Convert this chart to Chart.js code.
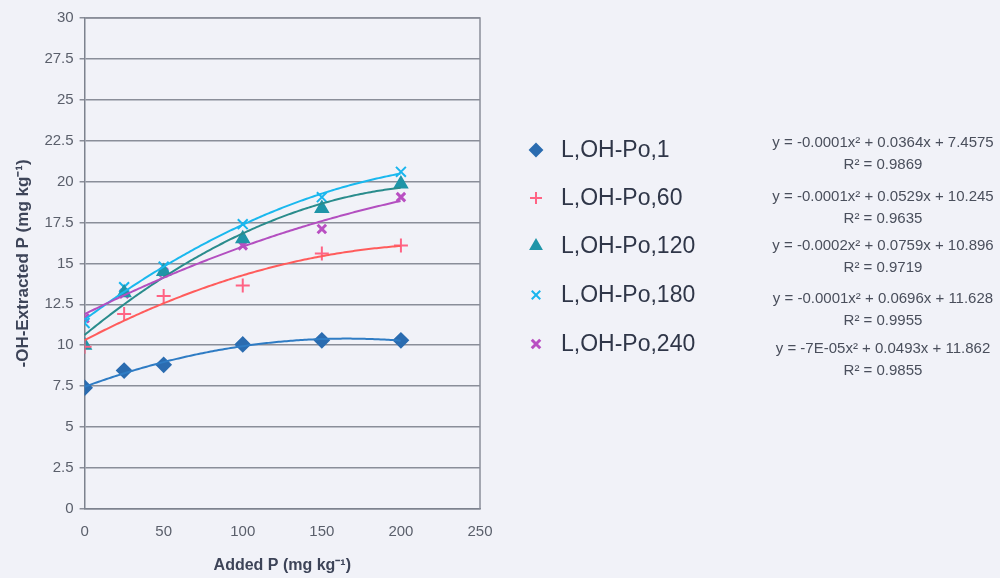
<!DOCTYPE html>
<html>
<head>
<meta charset="utf-8">
<script src="https://cdn.jsdelivr.net/npm/chart.js@4.4.1/dist/chart.umd.min.js"></script>
<style>
  html, body { margin: 0; padding: 0; background: #f1f2f8; }
  #wrap { position: relative; width: 1000px; height: 578px; }
</style>
</head>
<body>
<div id="wrap"><canvas id="extractChart" width="1000" height="578"></canvas></div>
<script>
"use strict";

// added P levels (mg/kg)
const addedP = [0, 25, 50, 100, 150, 200];

// extracted P, one array per series
const po1 = [7.4, 8.45, 8.8, 10.05, 10.3, 10.3];
const po60 = [9.9, 11.9, 13.0, 13.65, 15.6, 16.1];
const po120 = [10.0, 13.2, 14.5, 16.5, 18.35, 19.85];
const po180 = [11.35, 13.55, 14.8, 17.4, 19.05, 20.6];
const po240 = [11.65, 13.15, 14.45, 16.1, 17.1, 19.05];

const seriesNames = ["L,OH-Po,1", "L,OH-Po,60", "L,OH-Po,120", "L,OH-Po,180", "L,OH-Po,240"];
const equations = [
  ["y = -0.0001x\u00b2 + 0.0364x + 7.4575", "R\u00b2 = 0.9869"],
  ["y = -0.0001x\u00b2 + 0.0529x + 10.245", "R\u00b2 = 0.9635"],
  ["y = -0.0002x\u00b2 + 0.0759x + 10.896", "R\u00b2 = 0.9719"],
  ["y = -0.0001x\u00b2 + 0.0696x + 11.628", "R\u00b2 = 0.9955"],
  ["y = -7E-05x\u00b2 + 0.0493x + 11.862", "R\u00b2 = 0.9855"],
];

const markerColors = ["#2b6cb0", "#ff6384", "#1f95a8", "#19b5ee", "#b94fc2"];
const lineColors = ["#2f7cc4", "#ff5c5c", "#2a8c8c", "#1ab8ee", "#b34fc0"];
const markerStyles = ["rectRot", "cross", "triangle", "crossRot", "crossRot"];
const markerSizes = [7, 7, 7, 7, 6];
const allSeries = [po1, po60, po120, po180, po240];
const FONT = "Arial, 'Liberation Sans', sans-serif";

// least-squares quadratic fit (the excel trendline)
function quadFit(xs, ys) {
  let s = [0, 0, 0, 0, 0], t = [0, 0, 0];
  xs.forEach((x, i) => {
    for (let k = 0; k < 5; k++) s[k] += Math.pow(x, k);
    for (let k = 0; k < 3; k++) t[k] += ys[i] * Math.pow(x, k);
  });
  const m = [
    [s[0], s[1], s[2], t[0]],
    [s[1], s[2], s[3], t[1]],
    [s[2], s[3], s[4], t[2]],
  ];
  for (let i = 0; i < 3; i++) {
    for (let j = i + 1; j < 3; j++) {
      const f = m[j][i] / m[i][i];
      for (let k = i; k < 4; k++) m[j][k] -= f * m[i][k];
    }
  }
  const c = [0, 0, 0];
  for (let i = 2; i >= 0; i--) {
    let v = m[i][3];
    for (let k = i + 1; k < 3; k++) v -= m[i][k] * c[k];
    c[i] = v / m[i][i];
  }
  return c;
}

const fits = allSeries.map((ys) => quadFit(addedP, ys));

const trendPlugin = {
  id: "trend",
  afterDatasetsDraw(chart) {
    const { ctx, scales } = chart;
    const xs = scales.x, ys = scales.y;
    const x0 = xs.getPixelForValue(0), x1 = xs.getPixelForValue(200);
    ctx.save();
    fits.forEach((c, i) => {
      ctx.beginPath();
      ctx.strokeStyle = lineColors[i];
      ctx.lineWidth = 2;
      for (let px = x0; px <= x1 + 0.01; px += 2) {
        const x = xs.getValueForPixel(px);
        const py = ys.getPixelForValue(c[0] + c[1] * x + c[2] * x * x);
        if (px === x0) ctx.moveTo(px, py);
        else ctx.lineTo(px, py);
      }
      ctx.stroke();
    });
    ctx.restore();
  },
  afterDraw(chart) {
    const ctx = chart.ctx;
    ctx.save();
    const legendY = [150, 198, 246, 295, 344];
    const eqY = [143, 197, 246, 299, 349];
    seriesNames.forEach((name, i) => {
      ctx.fillStyle = markerColors[i];
      ctx.strokeStyle = markerColors[i];
      ctx.lineWidth = i === 4 ? 3 : 2;
      Chart.helpers.drawPoint(ctx, {
        pointStyle: markerStyles[i],
        radius: 6,
        rotation: 0,
        borderWidth: i === 4 ? 3 : 2,
      }, 536, legendY[i]);
      ctx.fillStyle = "#2f3648";
      ctx.font = "23px " + FONT;
      ctx.textAlign = "left";
      ctx.textBaseline = "middle";
      ctx.fillText(name, 561, legendY[i] + 1);

      ctx.fillStyle = "#4a4f5c";
      ctx.font = "15px " + FONT;
      ctx.textAlign = "center";
      ctx.fillText(equations[i][0], 883, eqY[i]);
      ctx.fillText(equations[i][1], 883, eqY[i] + 22);
    });
    ctx.restore();
  },
};

const ctxExtract = document.getElementById("extractChart").getContext("2d");

new Chart(ctxExtract, {
  type: "scatter",
  data: {
    datasets: allSeries.map((ys, i) => ({
      label: seriesNames[i],
      data: addedP.map((x, j) => ({ x: x, y: ys[j] })),
      pointStyle: markerStyles[i],
      pointRadius: markerSizes[i],
      pointBorderWidth: i === 4 ? 3 : 2,
      backgroundColor: markerColors[i],
      borderColor: markerColors[i],
      showLine: false,
    })),
  },
  options: {
    responsive: false,
    animation: false,
    layout: { padding: { left: 9, right: 520, top: 18, bottom: 3 } },
    plugins: {
      legend: { display: false },
      tooltip: { enabled: false },
    },
    scales: {
      x: {
        type: "linear",
        min: 0,
        max: 250,
        ticks: {
          stepSize: 50,
          color: "#5a5f6b",
          font: { family: FONT, size: 15 },
          padding: 9,
        },
        grid: { display: false, drawTicks: true, tickLength: 5, color: "#7d828e" },
        border: { color: "#7d828e", width: 1.5 },
        title: {
          display: true,
          text: "Added P (mg kg\u207b\u00b9)",
          color: "#3d4458",
          font: { family: FONT, size: 16, weight: "bold" },
          padding: { top: 6, bottom: 0 },
        },
      },
      y: {
        min: 0,
        max: 30,
        ticks: {
          stepSize: 2.5,
          color: "#5a5f6b",
          font: { family: FONT, size: 15 },
          padding: 6,
        },
        grid: { color: "#8a8e99", lineWidth: 1.5, tickLength: 5 },
        border: { color: "#7d828e", width: 1.5 },
        title: {
          display: true,
          text: "-OH-Extracted P (mg kg\u207b\u00b9)",
          color: "#3d4458",
          font: { family: FONT, size: 17, weight: "bold" },
          padding: { top: 4, bottom: 5 },
        },
      },
    },
  },
  plugins: [trendPlugin, {
    id: "frame",
    beforeDatasetsDraw(chart) {
      const { ctx, chartArea: a } = chart;
      ctx.save();
      ctx.strokeStyle = "#8a8e99";
      ctx.lineWidth = 1.5;
      ctx.beginPath();
      ctx.moveTo(a.left, a.top);
      ctx.lineTo(a.right, a.top);
      ctx.lineTo(a.right, a.bottom);
      ctx.stroke();
      ctx.restore();
    },
  }],
});
</script>
</body>
</html>
